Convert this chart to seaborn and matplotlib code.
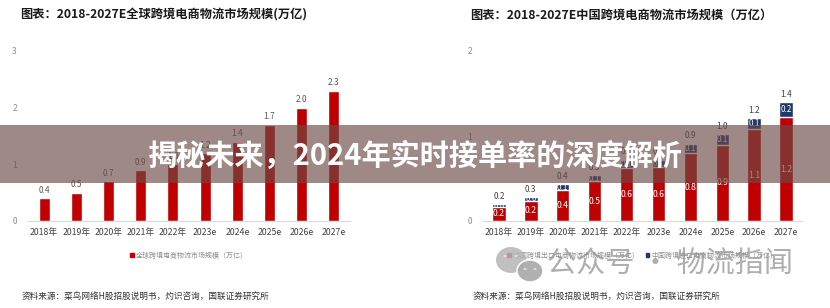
import matplotlib
matplotlib.use("Agg")
import matplotlib.pyplot as plt
import matplotlib.patches as mpatches
import seaborn as sns
import pandas as pd

# ---------------- data ----------------
years = ["2018年", "2019年", "2020年", "2021年", "2022年",
         "2023e", "2024e", "2025e", "2026e", "2027e"]
global_market = [0.4, 0.5, 0.7, 0.9, 1.0, 1.2, 1.4, 1.7, 2.0, 2.3]
china_export = [0.17, 0.24, 0.37, 0.47, 0.62, 0.63, 0.80, 0.90, 1.08, 1.22]
china_import = [0.03, 0.04, 0.06, 0.07, 0.10, 0.09, 0.11, 0.12, 0.13, 0.18]

left_title = "图表：2018-2027E全球跨境电商物流市场规模(万亿)"
right_title = "图表：2018-2027E中国跨境电商物流市场规模（万亿）"
left_legend = "全球跨境电商物流市场规模（万亿）"
export_legend = "中国跨境出口电商物流市场规模（万亿）"
import_legend = "中国跨境进口电商物流市场规模（万亿）"
source = "资料来源：菜鸟网络H股招股说明书，灼识咨询，国联证券研究所"
banner = "揭秘未来，2024年实时接单率的深度解析"
watermark = "公众号 · 物流指闻"

RED = "#C00000"
BLUE = "#1F3A6E"

sns.set_theme(style="white")
plt.rcParams["font.family"] = ["Noto Sans CJK SC", "DejaVu Sans"]

W, H = 830, 308
fig = plt.figure(figsize=(W / 100, H / 100), dpi=100)
fig.patch.set_facecolor("white")


def px_axes(x0, x1, y_top, y_bot):
    return fig.add_axes([x0 / W, 1 - y_bot / H, (x1 - x0) / W, (y_bot - y_top) / H])


def style_axes(ax, ymax):
    ax.set_ylim(0, ymax)
    ax.set_xlim(-0.5, len(years) - 0.5)
    ax.set_yticks(range(0, ymax + 1))
    for s in ["top", "right", "left"]:
        ax.spines[s].set_visible(False)
    ax.spines["bottom"].set_color("#d9d9d9")
    ax.spines["bottom"].set_linewidth(0.8)
    ax.tick_params(axis="x", length=0, pad=5, labelsize=6.3, labelcolor="#404040")
    ax.tick_params(axis="y", length=0, pad=8, labelsize=6, labelcolor="#8c8c8c")
    ax.set_xlabel("")
    ax.set_ylabel("")
    ax.set_facecolor("white")
    ax.patch.set_alpha(0)


# ---------------- left chart ----------------
axL = px_axes(28, 350, 51, 221)
dfL = pd.DataFrame({"year": years, "value": global_market})
sns.barplot(data=dfL, x="year", y="value", color=RED, saturation=1,
            width=0.34, ax=axL, order=years)
style_axes(axL, 3)
axL.bar_label(axL.containers[0], fmt="%.1f", padding=2.5, fontsize=6, color="#595959")
axL.legend(handles=[mpatches.Patch(color=RED, label=left_legend)],
           loc="center", bbox_to_anchor=(0.5, -0.205), frameon=False,
           fontsize=5, labelcolor="#8c8c8c", handlelength=0.5, handleheight=0.5,
           handletextpad=0.3)

# ---------------- right chart ----------------
axR = px_axes(483, 802, 51, 221)
china_total = [e + i for e, i in zip(china_export, china_import)]
dfR = pd.DataFrame({"year": years, "total": china_total, "export": china_export})
sns.barplot(data=dfR, x="year", y="total", color=BLUE, saturation=1,
            width=0.42, ax=axR, order=years)
sns.barplot(data=dfR, x="year", y="export", color=RED, saturation=1,
            width=0.42, ax=axR, order=years)
style_axes(axR, 2)
axR.bar_label(axR.containers[0], labels=[f"{t:.1f}" for t in china_total],
              padding=2.5, fontsize=6, color="#404040")
axR.bar_label(axR.containers[1], labels=[f"{e:.1f}" for e in china_export],
              label_type="center", fontsize=6.3, color="white")
for k, (e, i) in enumerate(zip(china_export, china_import)):
    axR.text(k, e + i / 2, f"{i:.1f}", ha="center", va="center",
             fontsize=5.8, color="white")
axR.legend(handles=[mpatches.Patch(color=RED, label=export_legend),
                    mpatches.Patch(color=BLUE, label=import_legend)],
           loc="center", bbox_to_anchor=(0.5, -0.205), frameon=False, ncol=2,
           fontsize=5, labelcolor="#8c8c8c", handlelength=0.5, handleheight=0.5,
           handletextpad=0.3, columnspacing=1.0)

# ---------------- titles & sources ----------------
fig.text(20 / W, 1 - 15 / H, left_title, ha="left", va="center",
         fontsize=8.8, fontweight="bold", color="#1a1a1a")
fig.text(470 / W, 1 - 15 / H, right_title, ha="left", va="center",
         fontsize=8.8, fontweight="bold", color="#1a1a1a")
fig.text(22 / W, 1 - 296 / H, source, ha="left", va="center",
         fontsize=6.2, color="#333333")
fig.text(473 / W, 1 - 296 / H, source, ha="left", va="center",
         fontsize=6.2, color="#333333")

# ---------------- banner overlay ----------------
rect = mpatches.Rectangle((0, 1 - 183 / H), 1, 58 / H, transform=fig.transFigure,
                          facecolor="#6b4a47", alpha=0.65, edgecolor="none",
                          zorder=10)
fig.add_artist(rect)
fig.text(415 / W, 1 - 156 / H, banner, ha="center", va="center",
         fontsize=21, fontweight="bold", color="white", zorder=11)

# ---------------- watermark ----------------
b1 = mpatches.Ellipse((511 / W, 1 - 260 / H), 30 / W, 26 / H, transform=fig.transFigure,
                      facecolor="#b5b5b5", edgecolor="none", alpha=0.85, zorder=12)
b2 = mpatches.Ellipse((530 / W, 1 - 271 / H), 26 / W, 22 / H, transform=fig.transFigure,
                      facecolor="#a8a8a8", edgecolor="white", linewidth=1.2,
                      alpha=0.9, zorder=13)
fig.add_artist(b1)
fig.add_artist(b2)
for (cx, cy) in [(505, 256), (516, 256), (525, 269), (535, 269)]:
    fig.add_artist(mpatches.Circle((cx / W, 1 - cy / H), 1.6 / W,
                                   transform=fig.transFigure, facecolor="white",
                                   edgecolor="none", zorder=14))
fig.text(547 / W, 1 - 265 / H, watermark, ha="left", va="center",
         fontsize=21, color="#9a9a9a", alpha=0.8, zorder=12)

fig.savefig("out.png", dpi=100, facecolor="white")
